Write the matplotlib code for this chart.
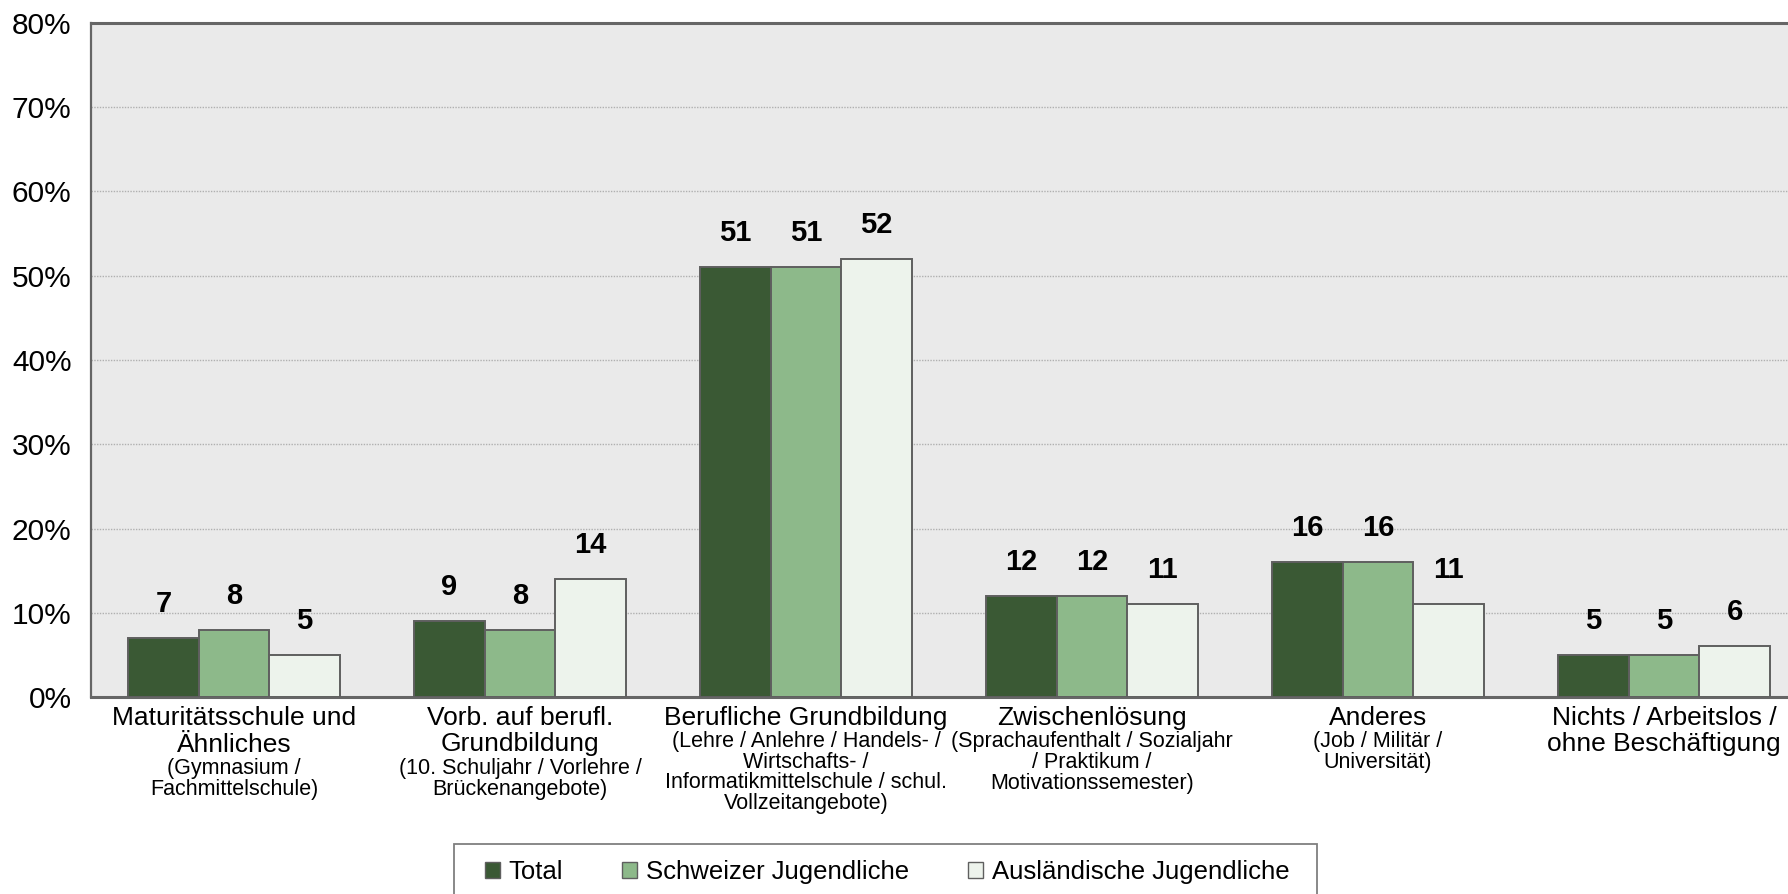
import matplotlib

matplotlib.use("Agg")
import matplotlib.pyplot as plt  # noqa: E402
import numpy as np  # noqa: E402
from matplotlib.patches import Patch, Rectangle  # noqa: E402

# --- data -------------------------------------------------------------
main_labels = [
    ["Maturitätsschule und", "Ähnliches"],
    ["Vorb. auf berufl.", "Grundbildung"],
    ["Berufliche Grundbildung"],
    ["Zwischenlösung"],
    ["Anderes"],
    ["Nichts / Arbeitslos /", "ohne Beschäftigung"],
]
sub_labels = [
    ["(Gymnasium /", "Fachmittelschule)"],
    ["(10. Schuljahr / Vorlehre /", "Brückenangebote)"],
    ["(Lehre / Anlehre / Handels- /", "Wirtschafts- /",
     "Informatikmittelschule / schul.", "Vollzeitangebote)"],
    ["(Sprachaufenthalt / Sozialjahr", "/ Praktikum /", "Motivationssemester)"],
    ["(Job / Militär /", "Universität)"],
    [],
]
series_names = ["Total", "Schweizer Jugendliche", "Ausländische Jugendliche"]
total = [7, 9, 51, 12, 16, 5]
schweizer = [8, 8, 51, 12, 16, 5]
auslaender = [5, 14, 52, 11, 11, 6]
y_ticks = [0, 10, 20, 30, 40, 50, 60, 70, 80]

# --- style ------------------------------------------------------------
plt.rcParams["font.family"] = ["Liberation Sans", "DejaVu Sans"]
colors = ["#3a5934", "#8db98a", "#edf3ec"]
edge = "#5f5f5f"
W, H = 1788, 894

fig = plt.figure(figsize=(W / 100, H / 100), dpi=100)
# plot area runs past the right edge of the picture, as in the original
ax = fig.add_axes([91 / W, 1 - 697 / H, (1807 - 91) / W, (697 - 23) / H])
ax.set_facecolor("#eaeaea")

x = np.arange(len(total))
bw = 0.247
for k, vals in enumerate([total, schweizer, auslaender]):
    bars = ax.bar(x + (k - 1) * bw, vals, bw, color=colors[k], edgecolor=edge,
                  linewidth=1.4, zorder=3)
    for b, v in zip(bars, vals):
        ax.annotate(f"{v}", (b.get_x() + b.get_width() / 2, v),
                    xytext=(0, 34), textcoords="offset pixels",
                    ha="center", va="center", fontsize=21, fontweight="bold")

ax.set_xlim(-0.5, len(total) - 0.5)
ax.set_ylim(0, 80)
ax.set_yticks(y_ticks)
ax.set_yticklabels([f"{t}%" for t in y_ticks], fontsize=21.5)
ax.tick_params(axis="y", length=0, pad=14)
ax.set_xticks([])
ax.yaxis.grid(True, color="#b0b0b0", linestyle=(0, (1, 1)), linewidth=1, zorder=0)
ax.set_axisbelow(True)
for s in ["left", "top", "bottom"]:
    ax.spines[s].set_color("#666666")
ax.spines["left"].set_linewidth(1.6)
ax.spines["top"].set_linewidth(2.2)
ax.spines["bottom"].set_linewidth(2.2)
ax.spines["right"].set_visible(False)

# category labels: big main lines, smaller explanatory lines beneath
for i, (mains, subs) in enumerate(zip(main_labels, sub_labels)):
    y = -28
    for j, line in enumerate(mains):
        ax.annotate(line, (i, 0), xycoords=("data", "axes fraction"),
                    xytext=(0, y), textcoords="offset pixels",
                    ha="center", va="baseline", fontsize=19)
        if j < len(mains) - 1:
            y -= 26.5
    y -= 22.5
    for line in subs:
        ax.annotate(line, (i, 0), xycoords=("data", "axes fraction"),
                    xytext=(0, y), textcoords="offset pixels",
                    ha="center", va="baseline", fontsize=15.5)
        y -= 20.5

# legend with a square frame that runs off the bottom
handles = [Patch(facecolor=c, edgecolor=edge, linewidth=1.0) for c in colors]
fig.legend(handles, series_names, loc="center left",
           bbox_to_anchor=(472 / W, 1 - 872 / H), ncol=3, frameon=False,
           fontsize=18.5, borderpad=0, handlelength=0.58, handleheight=0.58,
           handletextpad=0.35, columnspacing=2.3)
fig.patches.append(Rectangle((454 / W, -0.05), (1317 - 454) / W, 0.05 + 1 - 844 / H,
                             transform=fig.transFigure, fill=False,
                             edgecolor="#7f7f7f", linewidth=1.3))

fig.savefig("out.png", dpi=100)
